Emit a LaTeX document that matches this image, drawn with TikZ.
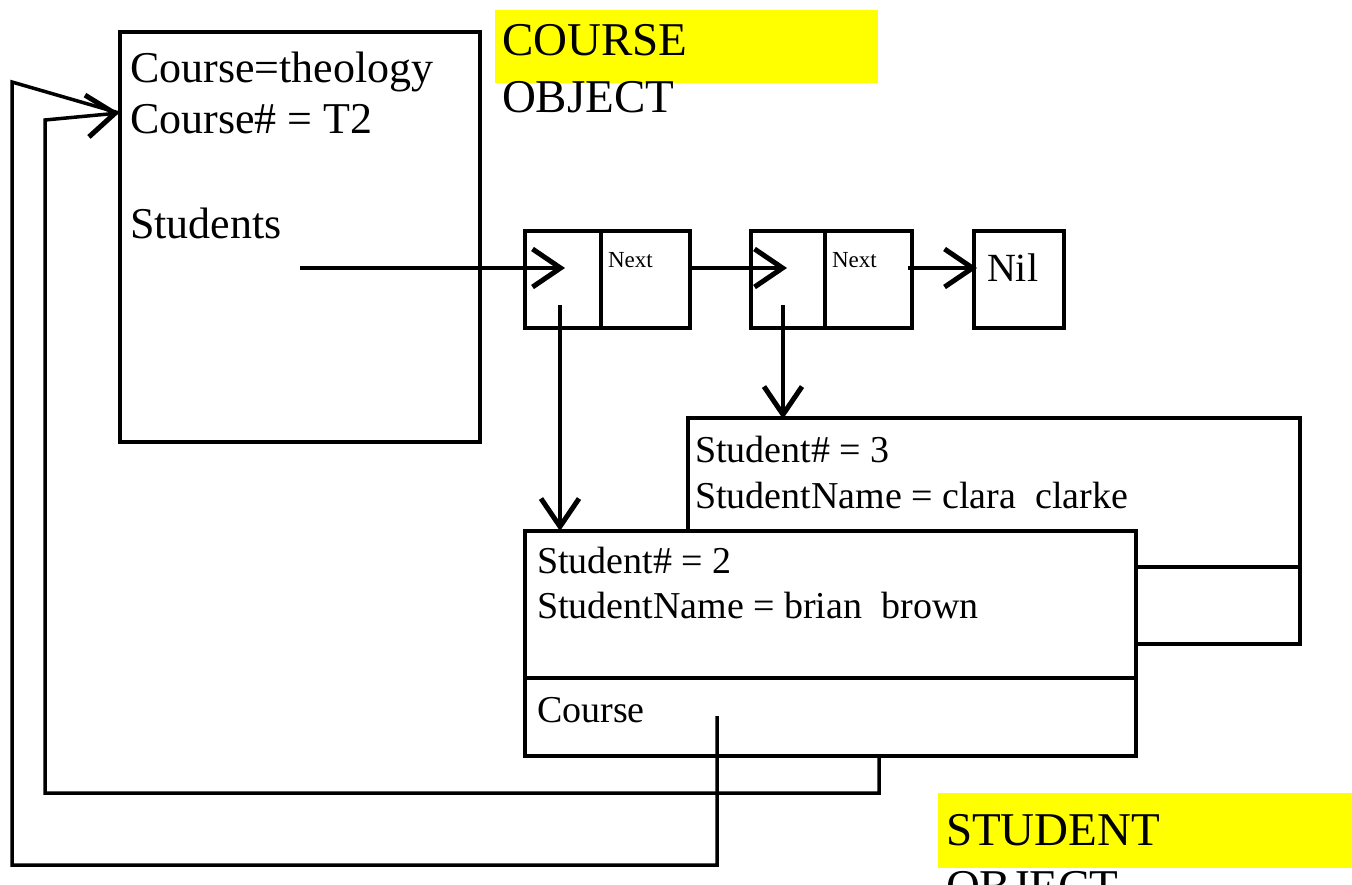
\documentclass[tikz,border=0pt]{standalone}
\usepackage{fontspec}
\setmainfont{Liberation Serif}
\usetikzlibrary{arrows.meta}
\definecolor{hlyellow}{RGB}{255,255,0}
\newcommand\szA{\fontsize{44pt}{50pt}\selectfont}
\newcommand\szB{\fontsize{38pt}{44pt}\selectfont}
\newcommand\szC{\fontsize{47pt}{54pt}\selectfont}
\newcommand\szD{\fontsize{23pt}{27pt}\selectfont}
\newcommand\szE{\fontsize{40pt}{46pt}\selectfont}
\begin{document}
\begin{tikzpicture}[x=1pt,y=-1pt,
  box/.style={draw, line width=3.5pt, inner sep=0pt, outer sep=0pt, anchor=north west, fill=white},
  lbl/.style={anchor=base west, inner sep=0pt, outer sep=0pt},
  hl/.style={fill=hlyellow, inner sep=0pt, outer sep=0pt, anchor=north west},
  conn/.style={line width=3.5pt},
  tip/.style={-{Straight Barb[length=28pt,width=38pt,line width=5pt]}},
  tipw/.style={-{Straight Barb[length=28pt,width=42pt,line width=5pt]}}
]
\useasboundingbox (0,0) rectangle (1352,884);
\clip (0,0) rectangle (1352,884);

% course object
\node[box, minimum width=360pt, minimum height=410pt] (course) at (120,32) {};
\node[lbl] (ct1) at (130,82) {\szA Course=theology};
\node[lbl] (ct2) at (130,133) {\szA Course\# = T2};
\node[lbl] (ct3) at (130,238) {\szA Students};

% linked list
\node[box, minimum width=76pt, minimum height=97pt] (n1a) at (525,231) {};
\node[box, minimum width=89pt, minimum height=97pt] (n1b) at (601,231) {};
\node[box, minimum width=74pt, minimum height=97pt] (n2a) at (751,231) {};
\node[box, minimum width=87pt, minimum height=97pt] (n2b) at (825,231) {};
\node[box, minimum width=90pt, minimum height=97pt] (nil) at (974,231) {};
\node[lbl] (nx1) at (608,267) {\szD Next};
\node[lbl] (nx2) at (832,267) {\szD Next};
\node[lbl] (nilt) at (987,281) {\szE Nil};

% student 3
\node[box, minimum width=612pt, minimum height=149pt] (st3) at (688,418) {};
\node[box, minimum width=612pt, minimum height=77pt] (st3c) at (688,567) {};
\node[lbl] (s3a) at (695,462) {\szB Student\# = 3};
\node[lbl] (s3b) at (695,508) {\szB StudentName = clara\ \ clarke};

% student 2
\node[box, minimum width=611pt, minimum height=147pt] (st2) at (525,531) {};
\node[box, minimum width=611pt, minimum height=78pt] (st2c) at (525,678) {};
\node[lbl] (s2a) at (537,573) {\szB Student\# = 2};
\node[lbl] (s2b) at (537,618) {\szB StudentName = brian\ \ brown};
\node[lbl] (s2c) at (537,722) {\szB Course};

% connector points
\coordinate (a1s) at (300,268);
\coordinate (a1e) at (565,268);
\coordinate (a2s) at (690,268);
\coordinate (a2e) at (787,268);
\coordinate (a3s) at (908,268);
\coordinate (a3e) at (977,268);
\coordinate (v1s) at (560,305);
\coordinate (v1e) at (560,531);
\coordinate (v2s) at (783,305);
\coordinate (v2e) at (783,419);
\coordinate (cf) at (717,716);
\coordinate (tipc) at (119,113);
\coordinate (s3p) at (879,756);

\draw[conn,tip] (a1s) -- (a1e);
\draw[conn,tip] (a2s) -- (a2e);
\draw[conn,tip] (a3s) -- (a3e);
\draw[conn,tip] (v1s) -- (v1e);
\draw[conn,tip] (v2s) -- (v2e);
\draw[conn] (cf) -- (717,865) -- (12,865) -- (12,82) -- (tipc);
\draw[conn,tipw] (s3p) -- (879,793) -- (45,793) -- (45,120) -- (tipc);

% labels
\node[hl, minimum width=383pt, minimum height=73pt] (chl) at (495,10) {};
\node[lbl] (cl1) at (502,55) {\szC COURSE};
\node[lbl] (cl2) at (502,112) {\szC OBJECT};
\node[hl, minimum width=414pt, minimum height=75pt] (shl) at (938,793) {};
\node[lbl] (sl1) at (946,845) {\szC STUDENT};
\node[lbl] (sl2) at (946,902) {\szC OBJECT};
\end{tikzpicture}
\end{document}
